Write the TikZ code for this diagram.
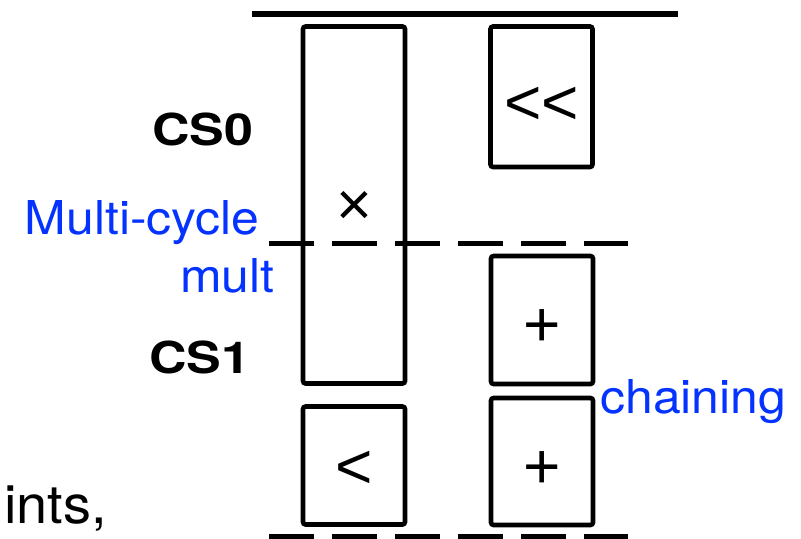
\documentclass[tikz,border=0pt]{standalone}
\usepackage{fontspec}
\setmainfont{TeX Gyre Heros}
\newfontfamily\symfont[Ligatures=NoCommon]{Liberation Sans}
\definecolor{kblue}{RGB}{4,51,255}
\begin{document}
\begin{tikzpicture}[x=0.75pt,y=-0.75pt,
  opbox/.style={draw=black,line width=3.5pt,rounded corners=2pt,minimum width=76.5pt,inner sep=0pt},
  sym/.style={inner sep=0pt,font=\symfont\fontsize{48}{54}\selectfont},
  bluetxt/.style={inner sep=0pt,text=kblue,font=\fontsize{35}{40}\selectfont,xscale=1.07},
  cstxt/.style={inner sep=0pt,font=\fontsize{33}{38}\selectfont\bfseries,xscale=1.18},
  sepline/.style={line width=3.8pt,line cap=butt},
  dashline/.style={sepline,dash pattern=on 33.75pt off 13.5pt}]
\useasboundingbox (0,0) rectangle (801,539);
% boxes
\node[opbox,minimum height=267.75pt] (mul) at (354,205) {};
\node[opbox,minimum height=105.4pt] (shl) at (541.5,96.75) {};
\node[opbox,minimum height=96pt] (addA) at (542,320) {};
\node[opbox,minimum height=95.25pt] (addB) at (542,461.5) {};
\node[opbox,minimum height=88.5pt] (cmp) at (354,465.5) {};
% symbols
\node[sym,font=\symfont\fontsize{46}{52}\selectfont] (mulS) at (354.5,208) {×};
\node[sym] (shlS) at (541.5,106) {{<}\kern0pt{<}};
\node[sym] (addAS) at (542,328.5) {+};
\node[sym] (addBS) at (542,470) {+};
\node[sym] (cmpS) at (354,470) {<};
% separator lines
\coordinate (t1) at (252,14); \coordinate (t2) at (678,14);
\coordinate (m1) at (269,243.5); \coordinate (m2) at (628,243.5);
\coordinate (b1) at (269,536.5); \coordinate (b2) at (628,536.5);
\draw[sepline] (t1) -- (t2);
\draw[dashline] (m1) -- (m2);
\draw[dashline] (b1) -- (b2);
% labels
\node[cstxt] (cs0) at (203,129) {CS0};
\node[cstxt] (cs1) at (199.5,357.5) {CS1};
\node[bluetxt,anchor=base east] (mc) at (260,234) {Multi-cycle};
\node[bluetxt,anchor=base east] (ml) at (275,292) {mult};
\node[bluetxt,anchor=base west] (ch) at (600,413.5) {chaining};
\node[inner sep=0pt,anchor=base west,font=\fontsize{40}{46}\selectfont,xscale=1.05] (ints) at (4,523) {ints,};
\end{tikzpicture}
\end{document}
